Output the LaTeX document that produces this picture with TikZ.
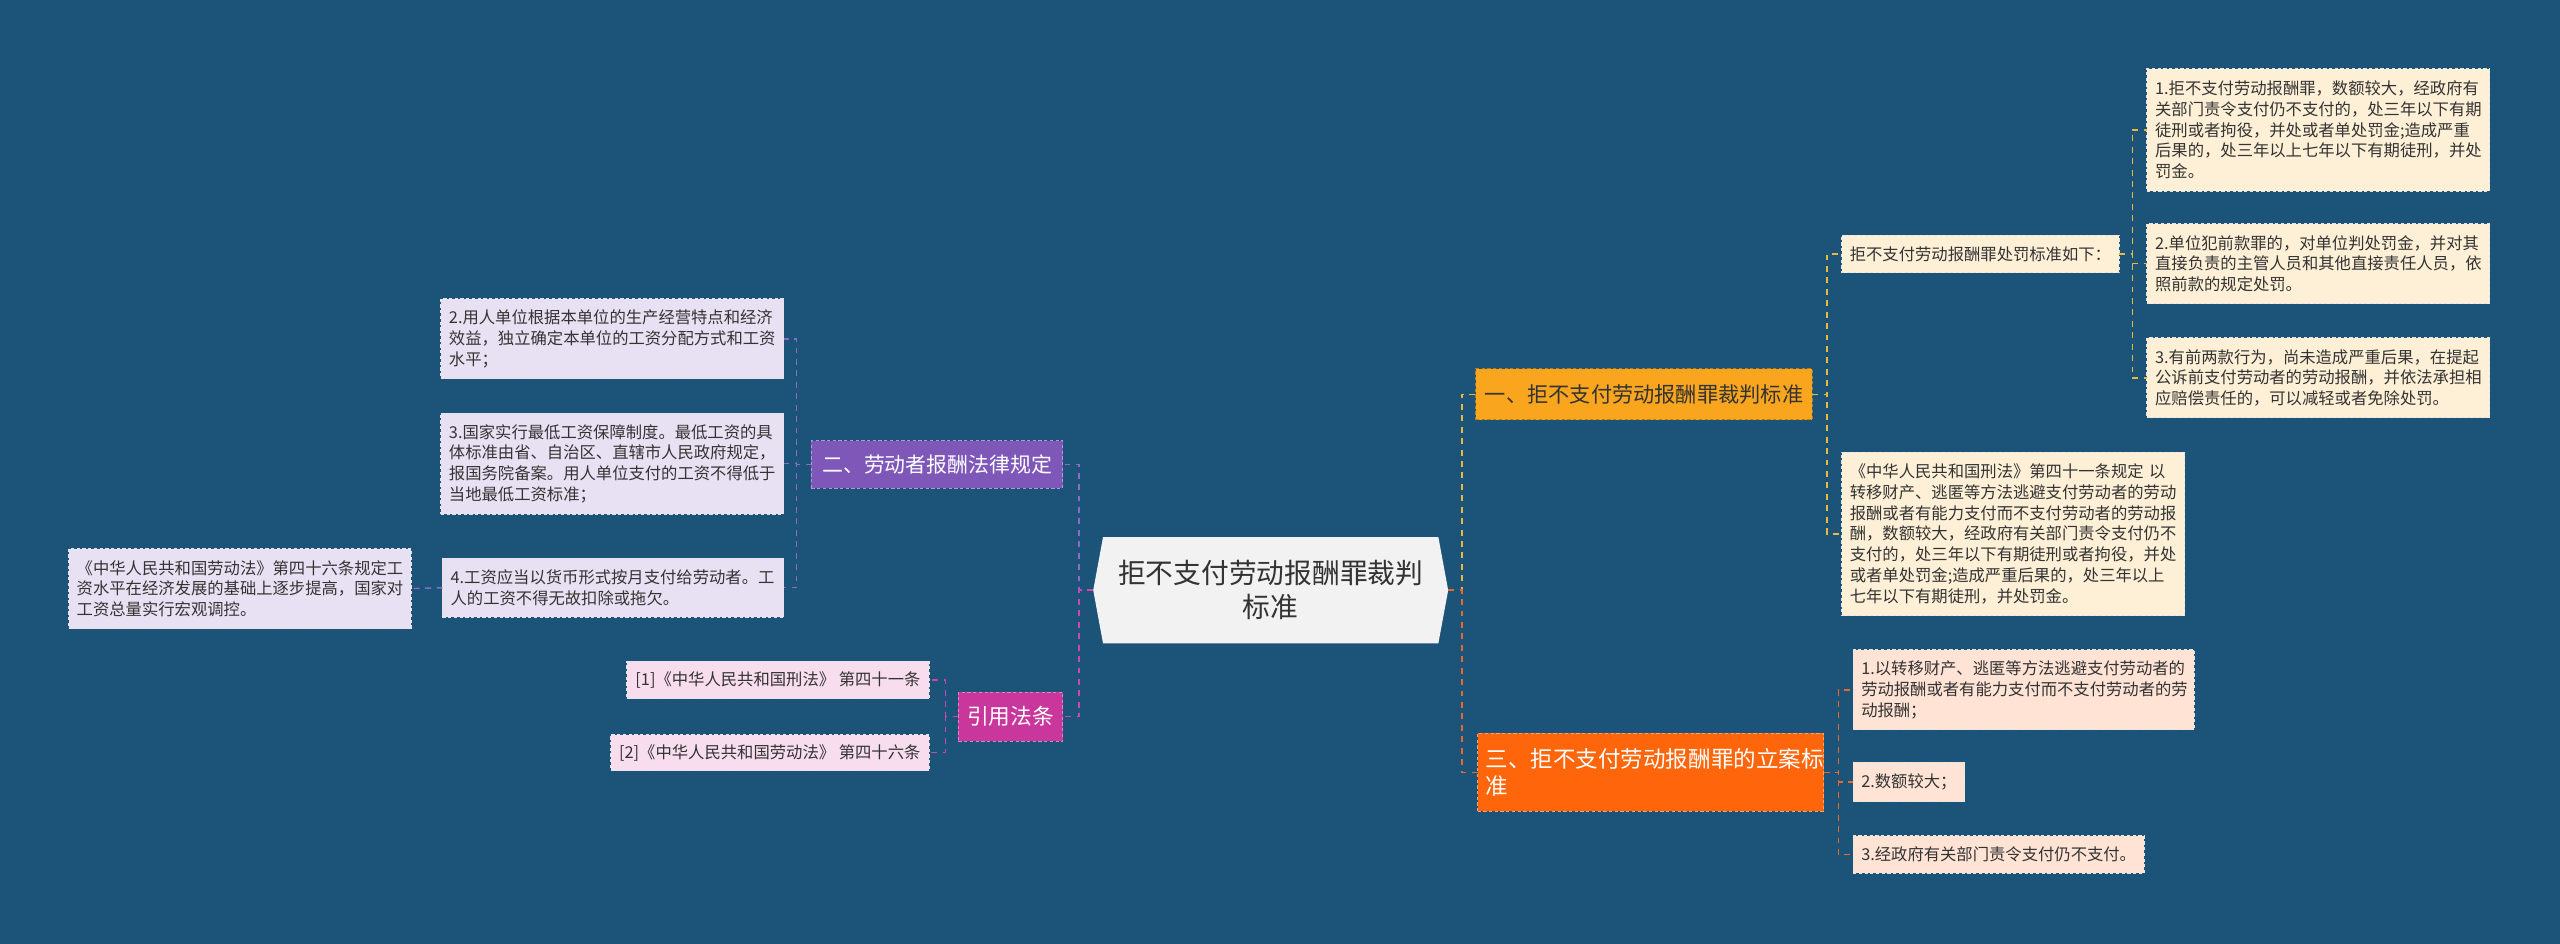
\documentclass[tikz,border=0pt]{standalone}
\usepackage{fontspec}
\setmainfont{Noto Sans CJK SC}
\usetikzlibrary{calc,backgrounds}
\definecolor{bgc}{HTML}{1B5478}
\definecolor{ctrfill}{HTML}{F2F2F2}
\definecolor{txt}{HTML}{333333}
\definecolor{fY}{HTML}{F9A61E}
\definecolor{fO}{HTML}{FF650A}
\definecolor{fP}{HTML}{7E57B8}
\definecolor{fM}{HTML}{C9379D}
\definecolor{lY}{HTML}{FEF0D6}
\definecolor{lO}{HTML}{FFE3D5}
\definecolor{lP}{HTML}{E8E1F3}
\definecolor{lM}{HTML}{F7DDEE}
\definecolor{cY}{HTML}{EBB73C}
\definecolor{cO}{HTML}{E56A2C}
\definecolor{cP}{HTML}{8A6CC4}
\definecolor{cM}{HTML}{D246A8}
\newcommand\leaffont{\fontsize{10}{12.7}\selectfont}
\newcommand\brfont{\fontsize{13}{16.3}\selectfont}
\newcommand\ctrfont{\fontsize{17}{21}\selectfont}
\begin{document}
\begin{tikzpicture}[x=1pt,y=-1pt,
  every node/.style={outer sep=0pt},
  boxbase/.style={rectangle, inner xsep=5pt, inner ysep=2pt, line width=0.6pt,
    dash pattern=on 2pt off 1.5pt},
  leafY/.style={boxbase, fill=lY, draw=white!80!gray, text=txt, font=\leaffont, align=left},
  leafO/.style={boxbase, fill=lO, draw=white!80!gray, text=txt, font=\leaffont, align=left},
  leafP/.style={boxbase, fill=lP, draw=white!80!gray, text=txt, font=\leaffont, align=left},
  leafM/.style={boxbase, fill=lM, draw=white!80!gray, text=txt, font=\leaffont, align=left},
  brY/.style={boxbase, fill=fY, draw=fY!75!black, text=txt, font=\brfont},
  brO/.style={boxbase, fill=fO, draw=fO!60!white, text=white, font=\fontsize{13.8}{16.3}\selectfont, align=left},
  brP/.style={boxbase, fill=fP, draw=fP!60!white, text=white, font=\fontsize{12.8}{16}\selectfont},
  brM/.style={boxbase, fill=fM, draw=fM!60!white, text=white, font=\fontsize{13.3}{16}\selectfont},
  ctrbox/.style={rectangle, inner sep=0pt, text=txt, font=\ctrfont, align=center},
  lnbase/.style={line width=0.9pt, dash pattern=on 3.6pt off 3.4pt},
  lnY/.style={lnbase, draw=cY},
  lnO/.style={lnbase, draw=cO},
  lnP/.style={lnbase, draw=cP},
  lnM/.style={lnbase, draw=cM}]
\useasboundingbox (0,0) rectangle (1568,578);

% center
\node[ctrbox, minimum width=205.4pt, minimum height=65pt] (c) at (778.3,361.5) {拒不支付劳动报酬罪裁判\\标准};
\coordinate (cW) at ($(c.west)+(-6,0)$);
\coordinate (cE) at ($(c.east)+(6,0)$);

% branches
\node[brY, minimum width=206pt, minimum height=31pt, anchor=north west] (b1) at (904,226) {一、拒不支付劳动报酬罪裁判标准};
\node[brO, minimum width=212pt, minimum height=48pt, text width=202pt, anchor=north west] (b3) at (905,449) {三、拒不支付劳动报酬罪的立案标\\准};
\node[brP, minimum width=154pt, minimum height=29pt, anchor=north west] (b2) at (497,270) {二、劳动者报酬法律规定};
\node[brM, minimum width=64pt, minimum height=30pt, anchor=north west] (b4) at (587,424) {引用法条};

% leaves of 一
\node[leafY, minimum width=170pt, minimum height=23pt, anchor=north west] (A) at (1128,144) {拒不支付劳动报酬罪处罚标准如下：};
\node[leafY, minimum width=210pt, minimum height=75pt, text width=200pt, anchor=north west] (A1) at (1315,42) {1.拒不支付劳动报酬罪，数额较大，经政府有\\关部门责令支付仍不支付的，处三年以下有期\\徒刑或者拘役，并处或者单处罚金;造成严重\\后果的，处三年以上七年以下有期徒刑，并处\\罚金。};
\node[leafY, minimum width=210pt, minimum height=49pt, text width=200pt, anchor=north west] (A2) at (1315,137) {2.单位犯前款罪的，对单位判处罚金，并对其\\直接负责的主管人员和其他直接责任人员，依\\照前款的规定处罚。};
\node[leafY, minimum width=210pt, minimum height=49pt, text width=200pt, anchor=north west] (A3) at (1315,207) {3.有前两款行为，尚未造成严重后果，在提起\\公诉前支付劳动者的劳动报酬，并依法承担相\\应赔偿责任的，可以减轻或者免除处罚。};
\node[leafY, minimum width=210pt, minimum height=100pt, text width=200pt, anchor=north west] (B) at (1128,277) {《中华人民共和国刑法》第四十一条规定~以\\转移财产、逃匿等方法逃避支付劳动者的劳动\\报酬或者有能力支付而不支付劳动者的劳动报\\酬，数额较大，经政府有关部门责令支付仍不\\支付的，处三年以下有期徒刑或者拘役，并处\\或者单处罚金;造成严重后果的，处三年以上\\七年以下有期徒刑，并处罚金。};

% leaves of 三
\node[leafO, minimum width=209pt, minimum height=49pt, text width=199pt, anchor=north west] (C1) at (1135,398) {1.以转移财产、逃匿等方法逃避支付劳动者的\\劳动报酬或者有能力支付而不支付劳动者的劳\\动报酬；};
\node[leafO, minimum width=68pt, minimum height=24pt, anchor=north west] (C2) at (1135,467) {2.数额较大；};
\node[leafO, minimum width=177pt, minimum height=23pt, anchor=north west] (C3) at (1135,512) {3.经政府有关部门责令支付仍不支付。};

% leaves of 二
\node[leafP, minimum width=210pt, minimum height=49pt, text width=200pt, anchor=north west] (D2) at (270,183) {2.用人单位根据本单位的生产经营特点和经济\\效益，独立确定本单位的工资分配方式和工资\\水平；};
\node[leafP, minimum width=210pt, minimum height=62pt, text width=200pt, anchor=north west] (D3) at (270,253) {3.国家实行最低工资保障制度。最低工资的具\\体标准由省、自治区、直辖市人民政府规定，\\报国务院备案。用人单位支付的工资不得低于\\当地最低工资标准；};
\node[leafP, minimum width=209pt, minimum height=36pt, text width=199pt, anchor=north west] (D4) at (271,342) {4.工资应当以货币形式按月支付给劳动者。工\\人的工资不得无故扣除或拖欠。};
\node[leafP, minimum width=210pt, minimum height=49pt, text width=200pt, anchor=north west] (D5) at (42,336) {《中华人民共和国劳动法》第四十六条规定工\\资水平在经济发展的基础上逐步提高，国家对\\工资总量实行宏观调控。};

% leaves of 引用法条
\node[leafM, minimum width=185pt, minimum height=23pt, anchor=north east] (E1) at (569,405) {[1]《中华人民共和国刑法》 第四十一条};
\node[leafM, minimum width=195pt, minimum height=22pt, anchor=north east] (E2) at (569,450) {[2]《中华人民共和国劳动法》 第四十六条};

\begin{scope}[on background layer]
\fill[bgc] (0,0) rectangle (1568,578);
\fill[ctrfill] (c.north west) -- (c.north east) -- (cE) -- (c.south east) -- (c.south west) -- (cW) -- cycle;
\end{scope}

% connectors
\draw[lnY] (cE) -- ++(8.5,0) |- (b1.west);
\draw[lnO] (cE) -- ++(8.5,0) |- (b3.west);
\draw[lnP] (cW) -- ++(-8.6,0) |- (b2.east);
\draw[lnM] (cW) -- ++(-8.6,0) |- (b4.east);

\draw[lnY] (b1.east) -- ++(9,0) |- (A.west);
\draw[lnY] (b1.east) -- ++(9,0) |- (B.west);
\draw[lnY] (A.east) -- ++(8,0) |- (A1.west);
\draw[lnY] (A.east) -- ++(8,0) |- (A2.west);
\draw[lnY] (A.east) -- ++(8,0) |- (A3.west);

\draw[lnO] (b3.east) -- ++(9,0) |- (C1.west);
\draw[lnO] (b3.east) -- ++(9,0) |- (C2.west);
\draw[lnO] (b3.east) -- ++(9,0) |- (C3.west);

\draw[lnP] (b2.west) -- ++(-9,0) |- (D2.east);
\draw[lnP] (b2.west) -- ++(-9,0) |- (D3.east);
\draw[lnP] (b2.west) -- ++(-9,0) |- (D4.east);
\draw[lnP] (D4.west) -- (D5.east);

\draw[lnM] (b4.west) -- ++(-8,0) |- (E1.east);
\draw[lnM] (b4.west) -- ++(-8,0) |- (E2.east);
\end{tikzpicture}
\end{document}
